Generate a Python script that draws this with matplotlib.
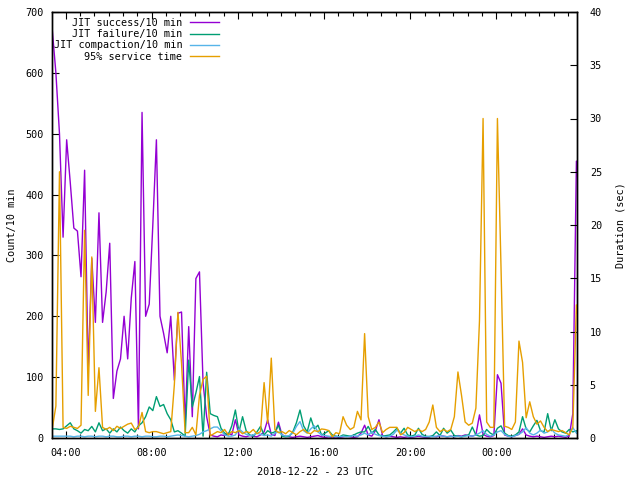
import matplotlib
matplotlib.use("Agg")
import matplotlib.pyplot as plt
import matplotlib.dates as mdates
import numpy as np
import pandas as pd

# ---- data (10-minute samples starting 2018-12-22 03:23 UTC) ----
start_time = "2018-12-22 03:23"

jit_success = [670, 600, 500, 330, 490, 420, 345, 340, 265, 440, 110, 295, 190, 370, 190, 240, 320, 65, 110, 130,
               200, 130, 230, 290, 15, 535, 200, 220, 350, 490, 200, 172, 140, 200, 95, 205, 207, 20, 183, 35,
               262, 273, 90, 35, 5, 3, 2, 5, 4, 8, 5, 30, 5, 3, 2, 4, 3, 2, 5, 10,
               30, 6, 4, 26, 5, 3, 2, 1, 2, 3, 2, 1, 2, 3, 4, 2, 1, 2, 1, 2,
               1, 2, 3, 2, 1, 2, 8, 21, 5, 3, 12, 30, 4, 2, 3, 2, 1, 2, 1, 2,
               1, 2, 3, 2, 1, 2, 3, 2, 4, 3, 2, 3, 2, 4, 3, 5, 4, 3, 5, 38,
               6, 3, 2, 4, 104, 90, 5, 3, 2, 4, 6, 15, 5, 3, 2, 3, 2, 1, 2, 3,
               2, 3, 2, 1, 3, 40, 455, 380]

jit_failure = [15, 15, 14, 15, 20, 25, 15, 12, 8, 14, 12, 19, 10, 25, 12, 15, 8, 15, 10, 18,
               12, 8, 15, 10, 20, 25, 35, 51, 45, 68, 52, 55, 40, 30, 10, 12, 8, 3, 128, 51,
               74, 101, 3, 108, 40, 37, 35, 16, 8, 5, 20, 46, 10, 35, 12, 5, 3, 10, 19, 5,
               12, 8, 10, 21, 3, 2, 3, 10, 25, 46, 20, 10, 33, 15, 21, 5, 8, 12, 5, 3,
               2, 5, 4, 3, 5, 8, 10, 10, 19, 8, 14, 5, 3, 4, 5, 10, 16, 8, 16, 5,
               3, 5, 16, 6, 3, 2, 4, 10, 4, 16, 8, 13, 4, 3, 2, 4, 5, 18, 5, 3,
               4, 14, 8, 5, 16, 20, 8, 4, 3, 5, 10, 35, 15, 10, 20, 29, 12, 10, 40, 12,
               30, 15, 10, 8, 14, 10, 12, 5]

jit_compaction = [3, 3, 3, 3, 3, 3, 2, 3, 3, 2, 3, 3, 2, 3, 3, 2, 3, 3, 2, 2,
                  3, 3, 2, 3, 3, 2, 3, 3, 2, 2, 3, 3, 2, 3, 4, 5, 4, 3, 2, 3,
                  4, 6, 10, 12, 15, 18, 18, 12, 5, 3, 3, 5, 15, 10, 6, 4, 5, 8, 6, 4,
                  5, 3, 8, 10, 5, 3, 4, 8, 19, 27, 12, 8, 15, 20, 10, 5, 4, 3, 2, 3,
                  2, 3, 2, 3, 4, 3, 5, 8, 5, 10, 6, 4, 3, 2, 3, 6, 13, 8, 5, 3,
                  2, 3, 5, 3, 2, 3, 2, 3, 4, 3, 2, 3, 2, 3, 2, 3, 4, 3, 5, 8,
                  12, 6, 3, 5, 10, 12, 6, 3, 2, 4, 6, 10, 17, 8, 5, 8, 13, 8, 10, 15,
                  8, 5, 4, 3, 6, 17, 8, 5]

service_time_95 = [0.9, 3.0, 25.0, 1.0, 0.9, 1.1, 1.0, 0.9, 1.2, 19.5, 4.0, 17.0, 2.5, 6.6, 1.0, 0.8, 1.0, 0.7, 1.1, 0.9,
                   1.1, 1.3, 1.4, 0.8, 1.0, 2.4, 0.6, 0.5, 0.6, 0.6, 0.5, 0.4, 0.5, 0.6, 5.0, 11.8, 7.0, 0.5, 0.5, 1.0,
                   0.3, 4.0, 5.5, 5.8, 0.2, 0.4, 0.6, 0.5, 0.8, 0.3, 0.6, 0.5, 0.7, 0.4, 0.6, 0.5, 0.8, 0.4, 0.6, 5.2,
                   1.4, 7.5, 0.8, 0.5, 0.6, 0.4, 0.7, 0.5, 0.3, 0.6, 0.8, 0.5, 0.4, 0.7, 0.6, 0.85, 0.8, 0.7, 0.1, 0.5,
                   0.4, 2.0, 1.2, 0.8, 1.0, 2.5, 1.7, 9.8, 2.0, 0.8, 1.0, 1.5, 0.5, 0.8, 1.0, 1.0, 1.0, 0.3, 0.5, 1.0,
                   0.8, 0.6, 0.8, 0.6, 0.8, 1.5, 3.1, 1.0, 0.6, 0.8, 0.6, 0.8, 2.0, 6.2, 4.0, 1.5, 1.2, 1.4, 2.8, 11.0,
                   30.0, 1.5, 1.0, 1.0, 30.0, 16.0, 1.1, 1.0, 0.8, 1.5, 9.1, 7.1, 1.9, 3.4, 2.0, 1.3, 1.6, 1.0, 0.6, 0.8,
                   0.7, 0.6, 0.7, 0.5, 0.3, 1.0, 12.5, 10.0]

legend_labels = ["JIT success/10 min", "JIT failure/10 min", "JIT compaction/10 min", "95% service time"]
colors = ["#9400D3", "#009E73", "#56B4E9", "#E69F00"]

times = pd.date_range(start_time, periods=len(jit_success), freq="10min")

FONT = "DejaVu Sans Mono"
FS = 7.3
plt.rcParams["font.family"] = FONT
plt.rcParams["font.size"] = FS

fig = plt.figure(figsize=(6.4, 4.8), dpi=100)
ax = fig.add_axes([52.3 / 640, 42 / 480, (577.3 - 52.3) / 640, (438 - 12) / 480])
ax2 = ax.twinx()

lw = 1.0
l1, = ax.plot(times, jit_success, color=colors[0], lw=lw, label=legend_labels[0])
l2, = ax.plot(times, jit_failure, color=colors[1], lw=lw, label=legend_labels[1])
l3, = ax.plot(times, jit_compaction, color=colors[2], lw=lw, label=legend_labels[2])
l4, = ax2.plot(times, service_time_95, color=colors[3], lw=lw, label=legend_labels[3])

ax.set_ylim(0, 700)
ax2.set_ylim(0, 40)
ax.set_yticks(np.arange(0, 701, 100))
ax2.set_yticks(np.arange(0, 41, 5))

ax.xaxis.set_major_locator(mdates.HourLocator(byhour=[0, 4, 8, 12, 16, 20]))
ax.xaxis.set_major_formatter(mdates.DateFormatter("%H:%M"))
# minor ticks every 40 minutes, aligned to the 4-hour majors
minor = pd.date_range("2018-12-22 03:20", "2018-12-23 03:40", freq="40min")
ax.set_xticks(minor, minor=True)
ax.set_xlim(pd.Timestamp("2018-12-22 03:23"), pd.Timestamp("2018-12-23 03:45:30"))

for a in (ax, ax2):
    for s in a.spines.values():
        s.set_linewidth(1.0)
        s.set_color("black")

ax.tick_params(axis="x", which="major", direction="in", length=5, width=0.8, top=True, pad=7, labelsize=FS)
ax.tick_params(axis="x", which="minor", direction="in", length=3, width=0.8, top=True)
ax.tick_params(axis="y", which="major", direction="in", length=5, width=0.8, pad=6, labelsize=FS)
ax2.tick_params(axis="y", which="major", direction="in", length=5, width=0.8, pad=9, labelsize=FS)

ax.set_ylabel("Count/10 min", fontsize=FS, labelpad=6)
ax2.set_ylabel("Duration (sec)", fontsize=FS, labelpad=10)
ax.set_xlabel("2018-12-22 - 23 UTC", fontsize=FS, labelpad=7)

ax.patch.set_visible(False)
ax2.patch.set_visible(False)

fig.legend([l1, l2, l3, l4], legend_labels, loc="upper right",
           bbox_to_anchor=(219 / 640, 1 - 18 / 480), frameon=False, markerfirst=False,
           handlelength=2.9, handletextpad=0.7, labelspacing=0.12, borderpad=0, borderaxespad=0,
           fontsize=FS)

fig.savefig("out.png", dpi=100)
